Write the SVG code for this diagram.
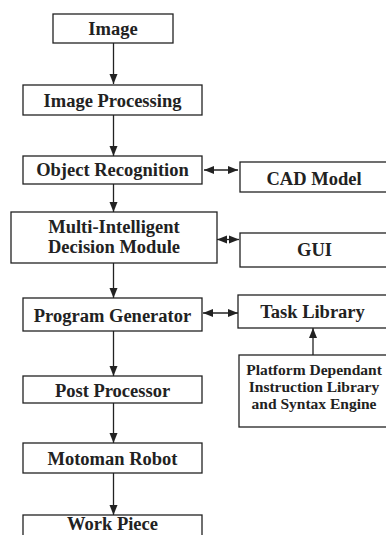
<svg xmlns="http://www.w3.org/2000/svg" width="386" height="535" viewBox="0 0 386 535">
<defs>
<style>
.box{fill:#fff;stroke:#222;stroke-width:1.3}
.t{font-family:"Liberation Serif","Times New Roman",serif;font-weight:bold;font-size:18.5px;fill:#222;text-anchor:middle}
.s{font-size:15.5px}
.c{stroke:#222;stroke-width:1.3;fill:none}
</style>
<marker id="ah" viewBox="0 0 10 10" refX="10" refY="5" markerWidth="10" markerHeight="10" markerUnits="userSpaceOnUse" orient="auto-start-reverse">
<path d="M0,1 L10,5 L0,9 Z" fill="#222"/>
</marker>
</defs>
<rect width="386" height="535" fill="#fff"/>
<g id="connectors">
<line class="c" x1="113.5" y1="43" x2="113.5" y2="84" marker-end="url(#ah)"/>
<line class="c" x1="113.5" y1="115" x2="113.5" y2="156" marker-end="url(#ah)"/>
<line class="c" x1="113.5" y1="184" x2="113.5" y2="212" marker-end="url(#ah)"/>
<line class="c" x1="113.5" y1="263" x2="113.5" y2="298" marker-end="url(#ah)"/>
<line class="c" x1="113.5" y1="331" x2="113.5" y2="376" marker-end="url(#ah)"/>
<line class="c" x1="113.5" y1="403" x2="113.5" y2="443" marker-end="url(#ah)"/>
<line class="c" x1="113.5" y1="473" x2="113.5" y2="515" marker-end="url(#ah)"/>
<line class="c" x1="204" y1="170" x2="238" y2="170" marker-start="url(#ah)" marker-end="url(#ah)"/>
<line class="c" x1="217" y1="239.5" x2="239" y2="239.5" marker-start="url(#ah)" marker-end="url(#ah)"/>
<line class="c" x1="203" y1="313" x2="238" y2="313" marker-start="url(#ah)" marker-end="url(#ah)"/>
<line class="c" x1="313" y1="355" x2="313" y2="328" marker-end="url(#ah)"/>
</g>
<g id="image"><rect class="box" x="53" y="14" width="120" height="29"/><text class="t" x="113" y="35">Image</text></g>
<g id="image-processing"><rect class="box" x="23" y="85" width="179" height="30"/><text class="t" x="112.5" y="107">Image Processing</text></g>
<g id="object-recognition"><rect class="box" x="23" y="156" width="179" height="28"/><text class="t" x="112.5" y="176">Object Recognition</text></g>
<g id="decision-module"><rect class="box" x="11" y="212" width="206" height="51"/><text class="t" x="114" y="233">Multi-Intelligent</text><text class="t" x="114" y="253">Decision Module</text></g>
<g id="program-generator"><rect class="box" x="23" y="298" width="179" height="33"/><text class="t" x="112.5" y="322">Program Generator</text></g>
<g id="post-processor"><rect class="box" x="23" y="376" width="179" height="27"/><text class="t" x="112.5" y="397">Post Processor</text></g>
<g id="motoman-robot"><rect class="box" x="23" y="443" width="179" height="30"/><text class="t" x="112.5" y="465">Motoman Robot</text></g>
<g id="work-piece"><rect class="box" x="23" y="515" width="179" height="40"/><text class="t" x="112.5" y="530">Work Piece</text></g>
<g id="cad-model"><rect class="box" x="240" y="162" width="200" height="30"/><text class="t" x="314" y="185">CAD Model</text></g>
<g id="gui"><rect class="box" x="240" y="233" width="200" height="34"/><text class="t" x="314.5" y="256">GUI</text></g>
<g id="task-library"><rect class="box" x="238" y="295" width="200" height="33"/><text class="t" x="312.5" y="318">Task Library</text></g>
<g id="platform-library"><rect class="box" x="239" y="355" width="200" height="72"/><text class="t s" x="314" y="375">Platform Dependant</text><text class="t s" x="314" y="392">Instruction Library</text><text class="t s" x="314" y="409">and Syntax Engine</text></g>
</svg>
